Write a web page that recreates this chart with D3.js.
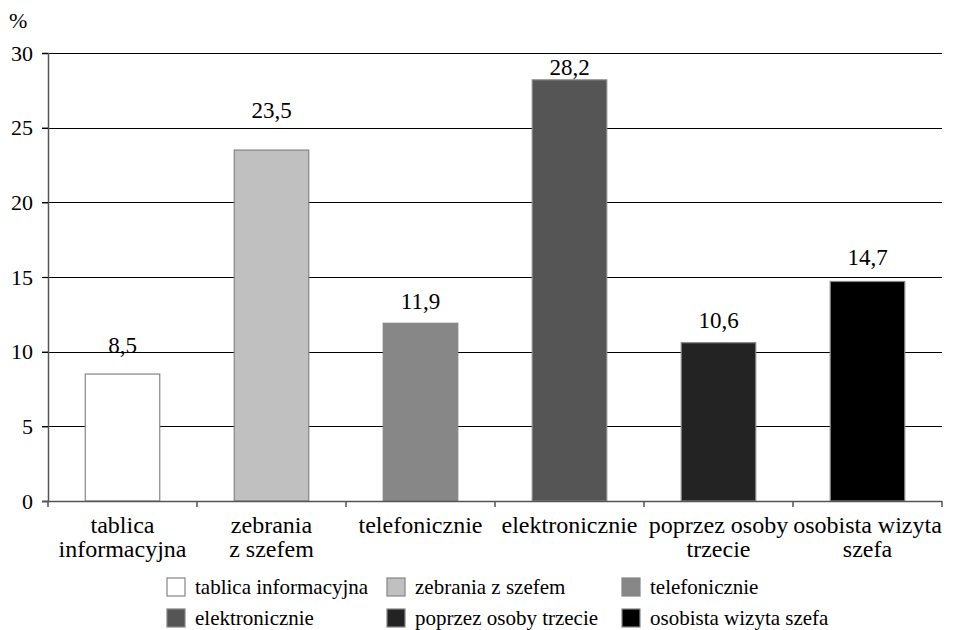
<!DOCTYPE html>
<html>
<head>
<meta charset="utf-8">
<script src="https://cdn.jsdelivr.net/npm/d3@7/dist/d3.min.js"></script>
<style>
  html, body { margin: 0; padding: 0; background: #fff; }
  svg text { font-family: "Liberation Serif", serif; }
</style>
</head>
<body>
<svg id="chart" width="955" height="630"></svg>
<script>
// Channels of communication with the boss, share of answers in %
const categories = [
  "tablica informacyjna",
  "zebrania z szefem",
  "telefonicznie",
  "elektronicznie",
  "poprzez osoby trzecie",
  "osobista wizyta szefa"
];
const axisLabels = [
  ["tablica", "informacyjna"],
  ["zebrania", "z szefem"],
  ["telefonicznie"],
  ["elektronicznie"],
  ["poprzez osoby", "trzecie"],
  ["osobista wizyta", "szefa"]
];
const values = [8.5, 23.5, 11.9, 28.2, 10.6, 14.7];
const yTicks = [0, 5, 10, 15, 20, 25, 30];
const fills = ["#ffffff", "#c0c0c0", "#878787", "#555555", "#232323", "#000000"];

// gap in px between each bar top and its value label baseline
const labelGap = [21, 32, 14, 5, 15, 16];

const svg = d3.select("#chart");
const margin = { left: 48, right: 13, top: 53, bottom: 129 };
const W = 955, H = 630;

const x = d3.scaleBand()
  .domain(categories)
  .range([margin.left, W - margin.right])
  .paddingInner(0.5)
  .paddingOuter(0.25);

const y = d3.scaleLinear()
  .domain([0, 30])
  .range([H - margin.bottom, margin.top]);

const fmt = v => d3.format(".1f")(v).replace(".", ",");

// horizontal gridlines (extend left as tick marks)
svg.append("g")
  .selectAll("line")
  .data(yTicks.filter(t => t > 0))
  .join("line")
  .attr("x1", margin.left - 6)
  .attr("x2", W - margin.right)
  .attr("y1", d => Math.round(y(d)) + 0.5)
  .attr("y2", d => Math.round(y(d)) + 0.5)
  .attr("stroke", "#000")
  .attr("stroke-width", 1.2);

// bars
svg.append("g")
  .selectAll("rect")
  .data(values)
  .join("rect")
  .attr("x", (d, i) => x(categories[i]))
  .attr("y", d => y(d))
  .attr("width", x.bandwidth())
  .attr("height", d => y(0) - y(d))
  .attr("fill", (d, i) => fills[i])
  .attr("stroke", "#858585")
  .attr("stroke-width", 1.2);

// y axis
const yAxis = svg.append("g")
  .attr("transform", `translate(${margin.left},0)`)
  .call(d3.axisLeft(y).tickValues(yTicks).tickSize(6).tickPadding(9).tickFormat(d3.format("d")));
yAxis.attr("font-family", null);
yAxis.select(".domain").attr("stroke", "#555").attr("stroke-width", 1.5);
yAxis.selectAll(".tick line").attr("stroke", "#000").attr("stroke-width", 1.2);
yAxis.selectAll(".tick text")
  .style("font-family", "Liberation Serif")
  .attr("font-size", 22)
  .attr("fill", "#000");

// x axis baseline with ticks at category boundaries
const bounds = d3.range(categories.length + 1).map(i => margin.left + i * x.step());
svg.append("line")
  .attr("x1", margin.left - 6)
  .attr("x2", W - margin.right)
  .attr("y1", y(0) + 0.5)
  .attr("y2", y(0) + 0.5)
  .attr("stroke", "#555")
  .attr("stroke-width", 1.5);
svg.append("g")
  .selectAll("line")
  .data(bounds)
  .join("line")
  .attr("x1", d => d)
  .attr("x2", d => d)
  .attr("y1", y(0))
  .attr("y2", y(0) + 6)
  .attr("stroke", "#555")
  .attr("stroke-width", 1.5);

// category labels
const xl = svg.append("g")
  .selectAll("text")
  .data(axisLabels)
  .join("text")
  .attr("text-anchor", "middle")
  .attr("font-size", 24)
  .attr("fill", "#000")
  .attr("transform", (d, i) => `translate(${x(categories[i]) + x.bandwidth() / 2},${y(0) + 32})`);
xl.selectAll("tspan")
  .data(d => d)
  .join("tspan")
  .attr("x", 0)
  .attr("dy", (d, i) => i === 0 ? 0 : 24)
  .text(d => d);

// value labels
svg.append("g")
  .selectAll("text")
  .data(values)
  .join("text")
  .attr("x", (d, i) => x(categories[i]) + x.bandwidth() / 2)
  .attr("y", (d, i) => y(d) - labelGap[i])
  .attr("text-anchor", "middle")
  .attr("font-size", 23)
  .attr("fill", "#000")
  .text(d => fmt(d));

// unit label
svg.append("text")
  .attr("x", 9)
  .attr("y", 28)
  .attr("font-size", 22)
  .attr("fill", "#000")
  .text("%");

// legend: 3 columns x 2 rows
const legendCols = [167, 387, 622];
const legendRows = [578, 609];
const lg = svg.append("g")
  .selectAll("g")
  .data(categories)
  .join("g")
  .attr("transform", (d, i) => `translate(${legendCols[i % 3]},${legendRows[Math.floor(i / 3)]})`);
lg.append("rect")
  .attr("width", 18)
  .attr("height", 18)
  .attr("fill", (d, i) => fills[i])
  .attr("stroke", "#858585")
  .attr("stroke-width", 1.2);
lg.append("text")
  .attr("x", 28)
  .attr("y", 16)
  .attr("font-size", 21)
  .attr("fill", "#000")
  .text(d => d);
</script>
</body>
</html>
